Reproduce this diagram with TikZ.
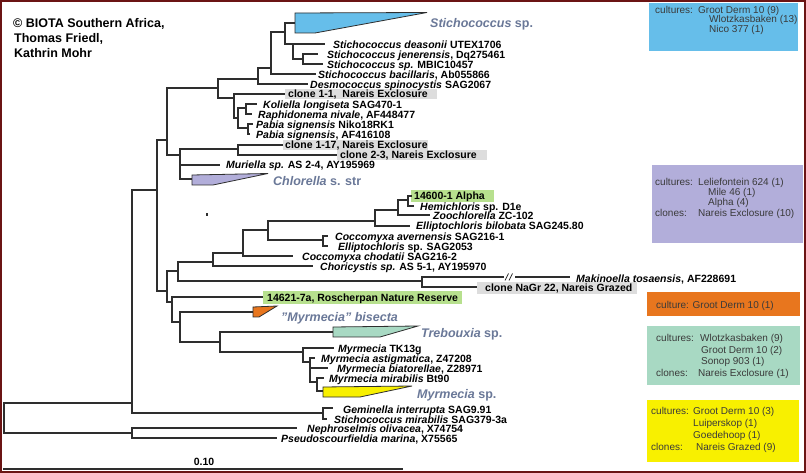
\documentclass[tikz,border=0pt]{standalone}
\usepackage{fontspec}
\setmainfont{Liberation Sans}
\definecolor{treecol}{HTML}{2E2E2E}
\definecolor{grpcol}{HTML}{6A7898}
\definecolor{boxtxt}{HTML}{3A3A3A}
\definecolor{frame}{HTML}{6B1414}
\definecolor{cblue}{HTML}{66BEEA}
\definecolor{clav}{HTML}{B2AEDA}
\definecolor{corange}{HTML}{E8761E}
\definecolor{cteal}{HTML}{A8D9C3}
\definecolor{cyellow}{HTML}{F8F000}
\definecolor{hlgrey}{HTML}{DDDDDD}
\definecolor{hlgreen}{HTML}{B7E08E}
\begin{document}
\begin{tikzpicture}[x=1bp,y=-1bp,
  br/.style={line width=1.2bp, draw=treecol},
  lf/.style={anchor=base west, inner sep=0pt, font=\fontsize{10.5bp}{12bp}\selectfont\bfseries},
  grp/.style={anchor=base west, inner sep=0pt, text=grpcol, font=\fontsize{12.5bp}{14bp}\selectfont\bfseries},
  hdr/.style={anchor=base west, inner sep=0pt, font=\fontsize{12.5bp}{14bp}\selectfont\bfseries},
  btx/.style={anchor=base west, inner sep=0pt, text=boxtxt, font=\fontsize{10bp}{11bp}\selectfont},
  clade/.style={draw=treecol, line width=0.8bp, line join=miter}
]
\useasboundingbox (0,0) rectangle (806,473);
\fill[white] (0,0) rectangle (806,473);

% header
\node[hdr] (h1) at (13,27.5) {© BIOTA Southern Africa,};
\node[hdr] (h2) at (14,42.5) {Thomas Friedl,};
\node[hdr] (h3) at (14,57.5) {Kathrin Mohr};

% ---------- coordinates of the tree ----------
\coordinate (R) at (4,418);
\coordinate (N0) at (132,403);
\coordinate (OUT) at (132,433);
\coordinate (tNeph) at (297,428);
\coordinate (tPseu) at (277,438);
\coordinate (N1) at (157,190);
\coordinate (GEM) at (323,413);
\coordinate (tGem) at (333,408);
\coordinate (tSmir) at (327,419);
\coordinate (N2) at (167,140);
\coordinate (N9) at (167,291);
\coordinate (N3) at (218,88);
\coordinate (N4) at (180,155);
\coordinate (N5) at (258,79);
\coordinate (N6) at (234,98);
\coordinate (N7) at (271,68);
\coordinate (tDesm) at (308,84);
\coordinate (A) at (285,32);
\coordinate (tBaci) at (316,74);
\coordinate (triS) at (295,23);
\coordinate (B) at (293,44);
\coordinate (tDeas) at (325,44);
\coordinate (C) at (303,59);
\coordinate (tJene) at (318,54);
\coordinate (tMbic) at (323,64);
\coordinate (tC11) at (285,94);
\coordinate (N8) at (238,118);
\coordinate (K) at (246,108);
\coordinate (P) at (248,128);
\coordinate (tKoli) at (257,104);
\coordinate (tRaph) at (252,114);
\coordinate (tPab1) at (253,124);
\coordinate (tPab2) at (250,134);
\coordinate (CL) at (238,149);
\coordinate (tC117) at (283,145);
\coordinate (tC23) at (337,155);
\coordinate (tMuri) at (220,165);
\coordinate (triC) at (192,179);
\coordinate (N10) at (178,271);
\coordinate (N19) at (172,302);
\coordinate (N12) at (213,262);
\coordinate (NM) at (422,281);
\coordinate (N14) at (243,253);
\coordinate (tChor) at (313,266);
\coordinate (N15) at (268,230);
\coordinate (tChod) at (293,256);
\coordinate (N13) at (375,221);
\coordinate (N16) at (323,240);
\coordinate (tAver) at (328,236);
\coordinate (tEsp) at (328,246);
\coordinate (N17) at (398,210);
\coordinate (tBilo) at (410,226);
\coordinate (N18) at (408,200);
\coordinate (tZoo) at (430,215);
\coordinate (t146) at (412,196);
\coordinate (tHemi) at (414,206);
\coordinate (mkA) at (504,277);
\coordinate (mkB) at (515,277);
\coordinate (tMak) at (570,277);
\coordinate (tNaGr) at (477,287);
\coordinate (t1462) at (263,297);
\coordinate (N11) at (180,322);
\coordinate (triO) at (253,312);
\coordinate (N20) at (220,342);
\coordinate (triT) at (333,332);
\coordinate (M1) at (303,352);
\coordinate (tTK) at (334,348);
\coordinate (M2) at (310,362);
\coordinate (tAst) at (315,358);
\coordinate (tBia) at (328,368);
\coordinate (M3) at (317,382);
\coordinate (tMir) at (324,378);
\coordinate (triY) at (323,391);

% ---------- highlight boxes ----------
\fill[hlgrey] (285,89) rectangle (437,99.5);
\fill[hlgrey] (283,140) rectangle (428,150);
\fill[hlgrey] (337,150.5) rectangle (487,160);
\fill[hlgrey] (477,282) rectangle (637,294);
\fill[hlgreen] (411,190.5) rectangle (494,202);
\fill[hlgreen] (263,291) rectangle (462,304.5);

% ---------- collapsed clades ----------
\filldraw[clade, fill=cblue] (295,13) -- (427,12.5) -- (315,33) -- (295,33) -- cycle;
\filldraw[clade, fill=clav] (192,175) -- (268,173.5) -- (213,185) -- (192,185) -- cycle;
\filldraw[clade, fill=corange] (253,307) -- (277,306) -- (259,317) -- (253,317) -- cycle;
\filldraw[clade, fill=cteal] (333,327) -- (418,326) -- (380,337) -- (333,337) -- cycle;
\filldraw[clade, fill=cyellow] (323,387) -- (412,386) -- (360,397) -- (323,397) -- cycle;

% ---------- branches ----------
\draw[br] (R) |- (N0);
\draw[br] (R) |- (OUT);
\draw[br] (OUT) |- (tNeph);
\draw[br] (OUT) |- (tPseu);
\draw[br] (N0) |- (N1);
\draw[br] (N0) |- (GEM);
\draw[br] (GEM) |- (tGem);
\draw[br] (GEM) |- (tSmir);
\draw[br] (N1) |- (N2);
\draw[br] (N1) |- (N9);
\draw[br] (N2) |- (N3);
\draw[br] (N2) |- (N4);
\draw[br] (N3) |- (N5);
\draw[br] (N3) |- (N6);
\draw[br] (N5) |- (N7);
\draw[br] (N5) |- (tDesm);
\draw[br] (N7) |- (A);
\draw[br] (N7) |- (tBaci);
\draw[br] (A) |- (triS);
\draw[br] (A) |- (B);
\draw[br] (B) |- (tDeas);
\draw[br] (B) |- (C);
\draw[br] (C) |- (tJene);
\draw[br] (C) |- (tMbic);
\draw[br] (N6) |- (tC11);
\draw[br] (N6) |- (N8);
\draw[br] (N8) |- (K);
\draw[br] (N8) |- (P);
\draw[br] (K) |- (tKoli);
\draw[br] (K) |- (tRaph);
\draw[br] (P) |- (tPab1);
\draw[br] (P) |- (tPab2);
\draw[br] (N4) |- (CL);
\draw[br] (N4) |- (tMuri);
\draw[br] (N4) |- (triC);
\draw[br] (CL) |- (tC117);
\draw[br] (CL) |- (tC23);
\draw[br] (N9) |- (N10);
\draw[br] (N9) |- (N19);
\draw[br] (N10) |- (N12);
\draw[br] (N10) |- (NM);
\draw[br] (N12) |- (N14);
\draw[br] (N12) |- (tChor);
\draw[br] (N14) |- (N15);
\draw[br] (N14) |- (tChod);
\draw[br] (N15) |- (N13);
\draw[br] (N15) |- (N16);
\draw[br] (N16) |- (tAver);
\draw[br] (N16) |- (tEsp);
\draw[br] (N13) |- (N17);
\draw[br] (N13) |- (tBilo);
\draw[br] (N17) |- (N18);
\draw[br] (N17) |- (tZoo);
\draw[br] (N18) |- (t146);
\draw[br] (N18) |- (tHemi);
\draw[br] (NM) |- (mkA);
\draw[br] (mkB) -- (tMak);
\draw[line width=0.7bp, draw=treecol] (505,280.5) -- (508.5,273.5) (509,280.5) -- (512.5,273.5);
\draw[br] (NM) |- (tNaGr);
\draw[br] (N19) |- (t1462);
\draw[br] (N19) |- (N11);
\draw[br] (N11) |- (triO);
\draw[br] (N11) |- (N20);
\draw[br] (N20) |- (triT);
\draw[br] (N20) |- (M1);
\draw[br] (M1) |- (tTK);
\draw[br] (M1) |- (M2);
\draw[br] (M2) |- (tAst);
\draw[br] (M2) |- (tBia);
\draw[br] (M2) |- (M3);
\draw[br] (M3) |- (tMir);
\draw[br] (M3) |- (triY);
\fill[treecol] (206.3,213.5) rectangle (207.6,216.5);

% ---------- leaf labels ----------
\node[lf] (lDeas) at (333,49) {\textit{Stichococcus deasonii} UTEX1706};
\node[lf] (lJene) at (327,59) {\textit{Stichococcus jenerensis}, Dq275461};
\node[lf] (lMbic) at (327,69) {\textit{Stichococcus sp.} MBIC10457};
\node[lf] (lBaci) at (318,79) {\textit{Stichococcus bacillaris}, Ab055866};
\node[lf] (lDesm) at (310,89) {\textit{Desmococcus spinocystis} SAG2067};
\node[lf] (lC11) at (288,98) {clone 1-1,\ \ Nareis Exclosure};
\node[lf] (lKoli) at (263,109) {\textit{Koliella longiseta} SAG470-1};
\node[lf] (lRaph) at (258,119) {\textit{Raphidonema nivale}, AF448477};
\node[lf] (lPab1) at (256,129) {\textit{Pabia signensis} Niko18RK1};
\node[lf] (lPab2) at (256,139) {\textit{Pabia signensis}, AF416108};
\node[lf] (lC117) at (285,149) {clone 1-17, Nareis Exclosure};
\node[lf] (lC23) at (340,159) {clone 2-3, Nareis Exclosure};
\node[lf] (lMuri) at (226,169) {\textit{Muriella sp.} AS 2-4, AY195969};
\node[lf] (l146) at (414,200) {14600-1 Alpha};
\node[lf] (lHemi) at (420,211) {\textit{Hemichloris} sp. D1e};
\node[lf] (lZoo) at (433,220) {\textit{Zoochlorella} ZC-102};
\node[lf] (lBilo) at (416,230) {\textit{Elliptochloris bilobata} SAG245.80};
\node[lf] (lAver) at (335,241) {\textit{Coccomyxa avernensis} SAG216-1};
\node[lf] (lEsp) at (338,251) {\textit{Elliptochloris} sp. SAG2053};
\node[lf] (lChod) at (302,261) {\textit{Coccomyxa chodatii} SAG216-2};
\node[lf] (lChor) at (320,271) {\textit{Choricystis sp.} AS 5-1, AY195970};
\node[lf] (lMak) at (576,283) {\textit{Makinoella tosaensis}, AF228691};
\node[lf] (lNaGr) at (485,292) {clone NaGr 22, Nareis Grazed};
\node[lf] (l1462) at (267,302) {14621-7a, Roscherpan Nature Reserve};
\node[lf] (lTK) at (338,353) {\textit{Myrmecia} TK13g};
\node[lf] (lAst) at (321,363) {\textit{Myrmecia astigmatica}, Z47208};
\node[lf] (lBia) at (337,373) {\textit{Myrmecia biatorellae}, Z28971};
\node[lf] (lMir) at (329,383) {\textit{Myrmecia mirabilis} Bt90};
\node[lf] (lGem) at (343,413) {\textit{Geminella interrupta} SAG9.91};
\node[lf] (lSmir) at (334,423) {\textit{Stichococcus mirabilis} SAG379-3a};
\node[lf] (lNeph) at (307,432) {\textit{Nephroselmis olivacea}, X74754};
\node[lf] (lPseu) at (281,442) {\textit{Pseudoscourfieldia marina}, X75565};

% ---------- clade labels ----------
\node[grp] (gS) at (430,27.5) {\textit{Stichococcus} sp.};
\node[grp] (gC) at (273,185.5) {\textit{Chlorella} s. str};
\node[grp] (gB) at (281,321.5) {\textit{"Myrmecia" bisecta}};
\node[grp] (gT) at (421,337.5) {\textit{Trebouxia} sp.};
\node[grp] (gM) at (417,398.5) {\textit{Myrmecia} sp.};

% ---------- scale bar ----------
\coordinate (sb1) at (3,469);
\coordinate (sb2) at (403,469);
\draw[line width=1.2bp, draw=treecol] (sb1) -- (sb2);
\node[anchor=base, inner sep=0pt, font=\fontsize{10.5bp}{12bp}\selectfont\bfseries] (sbl) at (204,465) {0.10};

% ---------- legend boxes ----------
\fill[cblue] (649,3) rectangle (798,51);
\node[btx] (b1a) at (655,13.5) {cultures:};
\node[btx] (b1b) at (698,13.5) {Groot Derm 10 (9)};
\node[btx] (b1c) at (709,23) {Wlotzkasbaken (13)};
\node[btx] (b1d) at (709,32.5) {Nico 377 (1)};

\fill[clav] (652,165) rectangle (803,243);
\node[btx] (b2a) at (655,185.5) {cultures:};
\node[btx] (b2b) at (698,185.5) {Leliefontein 624 (1)};
\node[btx] (b2c) at (708,195.5) {Mile 46 (1)};
\node[btx] (b2d) at (708,205.5) {Alpha (4)};
\node[btx] (b2e) at (655,216.5) {clones:};
\node[btx] (b2f) at (698,216.5) {Nareis Exclosure (10)};

\fill[corange] (647,292) rectangle (800,316);
\node[btx] (b3a) at (656,308.5) {culture: Groot Derm 10 (1)};

\fill[cteal] (647,326) rectangle (800,385);
\node[btx] (b4a) at (656,341.5) {cultures:};
\node[btx] (b4b) at (700,341.5) {Wlotzkasbaken (9)};
\node[btx] (b4c) at (701,353.5) {Groot Derm 10 (2)};
\node[btx] (b4d) at (701,364.5) {Sonop 903 (1)};
\node[btx] (b4e) at (656,376.5) {clones:};
\node[btx] (b4f) at (698,376.5) {Nareis Exclosure (1)};

\fill[cyellow] (647,400) rectangle (799,462);
\node[btx] (b5a) at (651,414.5) {cultures:};
\node[btx] (b5b) at (693,414.5) {Groot Derm 10 (3)};
\node[btx] (b5c) at (693,426.5) {Luiperskop (1)};
\node[btx] (b5d) at (693,438.5) {Goedehoop (1)};
\node[btx] (b5e) at (651,450.5) {clones:};
\node[btx] (b5f) at (696,450.5) {Nareis Grazed (9)};

% ---------- frame ----------
\draw[line width=2.2bp, draw=frame] (1.1,1.1) rectangle (804.9,471.9);
\end{tikzpicture}
\end{document}
